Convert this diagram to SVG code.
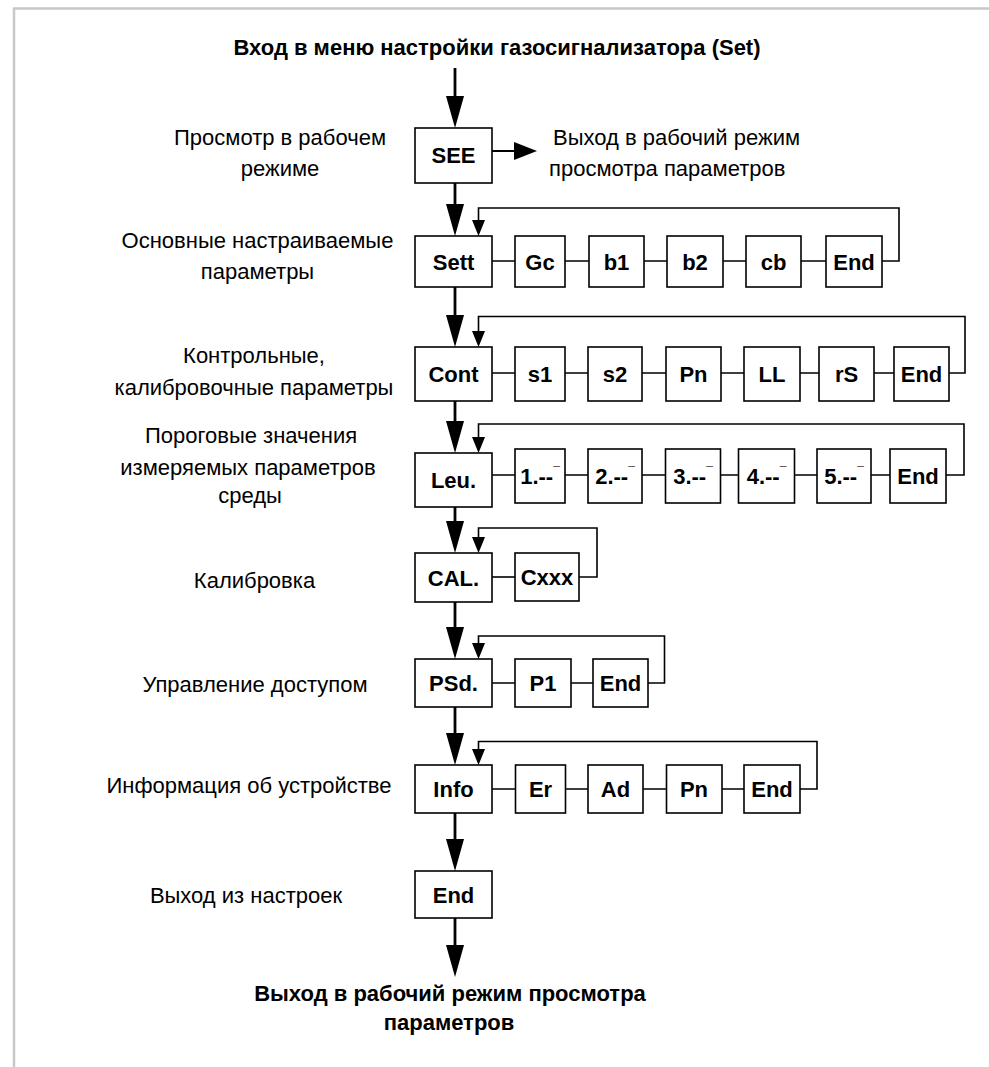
<svg xmlns="http://www.w3.org/2000/svg" width="989" height="1067" viewBox="0 0 989 1067">
<style>
text{font-family:"Liberation Sans",Arial,sans-serif;fill:#000}
.t{font-size:22px;font-weight:bold;text-anchor:middle}
.l{font-size:22px;text-anchor:middle}
.b{fill:#fff;stroke:#000;stroke-width:1.6}
.m{stroke:#000;stroke-width:2.8;fill:none}
.c{stroke:#000;stroke-width:1.6;fill:none}
.br{stroke:#c8c8c8;stroke-width:2.5;fill:none}
</style>
<defs>
<marker id="big" markerUnits="userSpaceOnUse" markerWidth="32" markerHeight="18" refX="22" refY="9" orient="auto"><path d="M0,0 L32,9 L0,18 z" fill="#000"/></marker>
<marker id="side" markerUnits="userSpaceOnUse" markerWidth="23" markerHeight="18" refX="16" refY="9" orient="auto"><path d="M0,0 L23,9 L0,18 z" fill="#000"/></marker>
<marker id="small" markerUnits="userSpaceOnUse" markerWidth="16" markerHeight="13" refX="12" refY="6.5" orient="auto"><path d="M0,0 L16,6.5 L0,13 z" fill="#000"/></marker>
</defs>
<g id="frame"><path class="br" d="M13,8.5 H989 M14,8 V1067"/></g>
<g id="labels">
<text class="t" x="497" y="55">Вход в меню настройки газосигнализатора (Set)</text>
<text class="l" x="280" y="145">Просмотр в рабочем</text>
<text class="l" x="280" y="176">режиме</text>
<text class="l" x="257.5" y="248">Основные настраиваемые</text>
<text class="l" x="257.5" y="279">параметры</text>
<text class="l" x="254" y="363">Контрольные,</text>
<text class="l" x="254" y="395">калибровочные параметры</text>
<text class="l" x="251" y="443">Пороговые значения</text>
<text class="l" x="248" y="475">измеряемых параметров</text>
<text class="l" x="250" y="503">среды</text>
<text class="l" x="254.5" y="588">Калибровка</text>
<text class="l" x="255" y="692">Управление доступом</text>
<text class="l" x="249" y="793">Информация об устройстве</text>
<text class="l" x="246" y="903">Выход из настроек</text>
<text style="font-size:22px" x="553" y="145">Выход в рабочий режим</text>
<text style="font-size:22px" x="549" y="176">просмотра параметров</text>
<text class="t" x="450" y="1001">Выход в рабочий режим просмотра</text>
<text class="t" x="449" y="1030">параметров</text>
</g>
<g id="connectors">
<path class="m" d="M455,68 V118" marker-end="url(#big)"/>
<path class="m" d="M455,183 V226" marker-end="url(#big)"/>
<path class="m" d="M455,287 V337" marker-end="url(#big)"/>
<path class="m" d="M455,401 V443" marker-end="url(#big)"/>
<path class="m" d="M455,507 V543" marker-end="url(#big)"/>
<path class="m" d="M455,602 V649" marker-end="url(#big)"/>
<path class="m" d="M455,707 V755" marker-end="url(#big)"/>
<path class="m" d="M455,813 V861" marker-end="url(#big)"/>
<path class="m" d="M455,918 V967" marker-end="url(#big)"/>
<path class="c" style="stroke-width:2" d="M492,151 H530" marker-end="url(#side)"/>
<path class="c" d="M492,261 H515 M565,261 H589 M644,261 H667 M723,261 H746 M801,261 H826"/>
<path class="c" d="M882,261 H899 V208 H478.5 V232" marker-end="url(#small)"/>
<path class="c" d="M492,373 H515 M565,373 H588 M642,373 H666 M721,373 H744 M800,373 H819 M874,373 H894"/>
<path class="c" d="M949,373 H965 V316.5 H478.5 V343" marker-end="url(#small)"/>
<path class="c" d="M492,475 H515 M565,475 H588 M642,475 H665.5 M720.5,475 H738.5 M794.5,475 H817 M871,475 H890"/>
<path class="c" d="M946,475 H964 V424 H478.5 V449" marker-end="url(#small)"/>
<path class="c" d="M492,577 H515"/>
<path class="c" d="M579,577 H597 V528 H478.5 V549" marker-end="url(#small)"/>
<path class="c" d="M492,683 H515 M571,683 H593"/>
<path class="c" d="M648,683 H664.5 V636 H478.5 V655" marker-end="url(#small)"/>
<path class="c" d="M492,789 H515.5 M565.5,789 H588 M643,789 H666.5 M722,789 H744"/>
<path class="c" d="M800,789 H817 V741.5 H478.5 V761" marker-end="url(#small)"/>
</g>
<g id="n-see"><rect class="b" x="415" y="128" width="77" height="55"/><text class="t" x="453.5" y="163">SEE</text></g>
<g id="n-sett"><rect class="b" x="415" y="236" width="77" height="51"/><text class="t" x="453.5" y="269.5">Sett</text></g>
<g id="n-gc"><rect class="b" x="515" y="236" width="50" height="51"/><text class="t" x="540" y="269.5">Gc</text></g>
<g id="n-b1"><rect class="b" x="589" y="236" width="55" height="51"/><text class="t" x="616.5" y="269.5">b1</text></g>
<g id="n-b2"><rect class="b" x="667" y="236" width="56" height="51"/><text class="t" x="695" y="269.5">b2</text></g>
<g id="n-cb"><rect class="b" x="746" y="236" width="55" height="51"/><text class="t" x="773.5" y="269.5">cb</text></g>
<g id="n-end1"><rect class="b" x="826" y="236" width="56" height="51"/><text class="t" x="854" y="269.5">End</text></g>
<g id="n-cont"><rect class="b" x="415" y="347" width="77" height="54"/><text class="t" x="453.5" y="382">Cont</text></g>
<g id="n-s1"><rect class="b" x="515" y="347" width="50" height="54"/><text class="t" x="540" y="382">s1</text></g>
<g id="n-s2"><rect class="b" x="588" y="347" width="54" height="54"/><text class="t" x="615" y="382">s2</text></g>
<g id="n-pn1"><rect class="b" x="666" y="347" width="55" height="54"/><text class="t" x="693.5" y="382">Pn</text></g>
<g id="n-ll"><rect class="b" x="744" y="347" width="56" height="54"/><text class="t" x="772" y="382">LL</text></g>
<g id="n-rs"><rect class="b" x="819" y="347" width="55" height="54"/><text class="t" x="846.5" y="382">rS</text></g>
<g id="n-end2"><rect class="b" x="894" y="347" width="55" height="54"/><text class="t" x="921.5" y="382">End</text></g>
<g id="n-leu"><rect class="b" x="415" y="453" width="77" height="54"/><text class="t" x="453.5" y="488">Leu.</text></g>
<g id="n-l1"><rect class="b" x="515" y="449" width="50" height="54"/><text class="t" x="540" y="484">1.--<tspan font-size="12" dy="-8">¯</tspan></text></g>
<g id="n-l2"><rect class="b" x="588" y="449" width="54" height="54"/><text class="t" x="615" y="484">2.--<tspan font-size="12" dy="-8">¯</tspan></text></g>
<g id="n-l3"><rect class="b" x="665.5" y="449" width="55" height="54"/><text class="t" x="693" y="484">3.--<tspan font-size="12" dy="-8">¯</tspan></text></g>
<g id="n-l4"><rect class="b" x="738.5" y="449" width="56" height="54"/><text class="t" x="766.5" y="484">4.--<tspan font-size="12" dy="-8">¯</tspan></text></g>
<g id="n-l5"><rect class="b" x="817" y="449" width="54" height="54"/><text class="t" x="844" y="484">5.--<tspan font-size="12" dy="-8">¯</tspan></text></g>
<g id="n-end3"><rect class="b" x="890" y="449" width="56" height="54"/><text class="t" x="918" y="484">End</text></g>
<g id="n-cal"><rect class="b" x="415" y="553" width="77" height="49"/><text class="t" x="453.5" y="585.5">CAL.</text></g>
<g id="n-cxxx"><rect class="b" x="515" y="553" width="64" height="48"/><text class="t" x="547" y="585">Cxxx</text></g>
<g id="n-psd"><rect class="b" x="415" y="659" width="77" height="48"/><text class="t" x="453.5" y="691">PSd.</text></g>
<g id="n-p1"><rect class="b" x="515" y="659" width="56" height="48"/><text class="t" x="543" y="691">P1</text></g>
<g id="n-end4"><rect class="b" x="593" y="659" width="55" height="48"/><text class="t" x="620.5" y="691">End</text></g>
<g id="n-info"><rect class="b" x="415" y="765" width="77" height="48"/><text class="t" x="453.5" y="797">Info</text></g>
<g id="n-er"><rect class="b" x="515.5" y="765" width="50" height="48"/><text class="t" x="540.5" y="797">Er</text></g>
<g id="n-ad"><rect class="b" x="588" y="765" width="55" height="48"/><text class="t" x="615.5" y="797">Ad</text></g>
<g id="n-pn2"><rect class="b" x="666.5" y="765" width="55.5" height="48"/><text class="t" x="694" y="797">Pn</text></g>
<g id="n-end5"><rect class="b" x="744" y="765" width="56" height="48"/><text class="t" x="772" y="797">End</text></g>
<g id="n-end6"><rect class="b" x="415" y="871" width="77" height="47"/><text class="t" x="453.5" y="902.5">End</text></g>
</svg>
